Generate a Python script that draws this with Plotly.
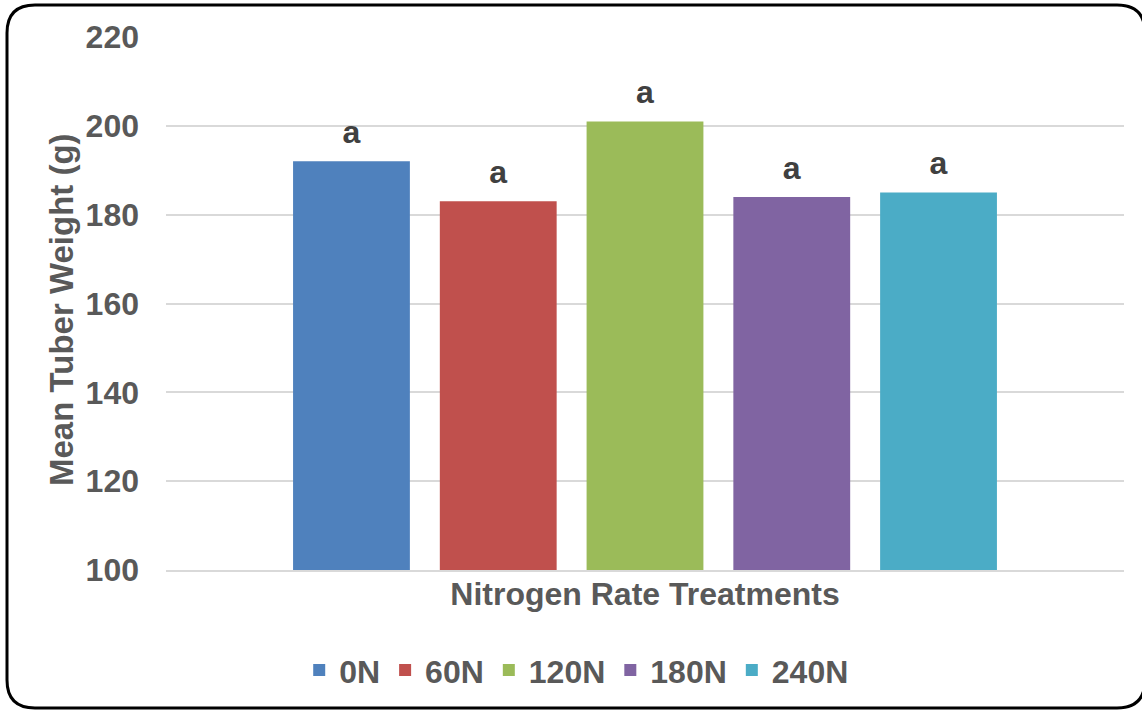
import plotly.graph_objects as go

# Mean tuber weight by nitrogen rate (single category, one series per treatment)
category = ["Nitrogen Rate Treatments"]
treatments = ["0N", "60N", "120N", "180N", "240N"]
mean_weight = [192, 183, 201, 184, 185]
letters = ["a", "a", "a", "a", "a"]
colors = ["#4F81BD", "#C0504D", "#9BBB59", "#8064A2", "#4BACC6"]
y_ticks = [100, 120, 140, 160, 180, 200, 220]

W, H = 1142, 710
ML, MR, MT, MB = 166, 18, 37, 140
FONT = "Liberation Sans, Arial, sans-serif"
GRID = "#D9D9D9"

fig = go.Figure()
for name, val, lab, col in zip(treatments, mean_weight, letters, colors):
    fig.add_trace(go.Bar(
        x=category, y=[val], name=name,
        marker=dict(color=col, line=dict(width=0)),
        # large letter plus a small blank line below it to lift the label off the bar
        text=[f"<span style='font-size:32px'>{lab}</span><br>&nbsp;"],
        textposition="outside",
        textfont=dict(family=FONT, size=10, color="#404040", weight="bold"),
        cliponaxis=False,
    ))

# rounded chart-area border, expressed in paper coordinates
pw, ph = W - ML - MR, H - MT - MB
def px(x):
    return (x - ML) / pw
def py(y):
    return (H - MB - y) / ph

x0, x1, y0, y1, r = 7, 1145, 5, 708, 28
path = (
    f"M {px(x0)},{py(y0 + r)} "
    f"Q {px(x0)},{py(y0)} {px(x0 + r)},{py(y0)} "
    f"L {px(x1 - r)},{py(y0)} "
    f"Q {px(x1)},{py(y0)} {px(x1)},{py(y0 + r)} "
    f"L {px(x1)},{py(y1 - r)} "
    f"Q {px(x1)},{py(y1)} {px(x1 - r)},{py(y1)} "
    f"L {px(x0 + r)},{py(y1)} "
    f"Q {px(x0)},{py(y1)} {px(x0)},{py(y1 - r)} Z"
)

fig.update_layout(
    width=W, height=H,
    margin=dict(l=ML, r=MR, t=MT, b=MB),
    paper_bgcolor="white", plot_bgcolor="white",
    barmode="group", bargap=0.234, bargroupgap=0.204,
    font=dict(family=FONT, color="#595959", weight="bold"),
    showlegend=True,
    legend=dict(
        orientation="h", xref="container", yref="container",
        x=0.505, xanchor="center", y=0.056, yanchor="middle",
        font=dict(family=FONT, size=32, color="#595959", weight="bold"),
        itemsizing="constant", traceorder="normal",
    ),
    shapes=[dict(type="path", xref="paper", yref="paper", path=path,
                 line=dict(color="black", width=3), layer="above")],
    annotations=[dict(
        text="Mean Tuber Weight (g)", textangle=-90,
        xref="paper", yref="paper", x=px(61), y=py(310),
        xanchor="center", yanchor="middle", showarrow=False,
        font=dict(family=FONT, size=33, color="#595959", weight="bold"),
    )],
)

fig.update_yaxes(
    range=[100, 220], tickvals=y_ticks,
    showgrid=True, gridcolor=GRID, gridwidth=1.5,
    zeroline=False, showline=False,
    tickfont=dict(family=FONT, size=32, color="#595959", weight="bold"),
    ticklabelstandoff=26,
)
fig.update_xaxes(
    showline=True, linecolor=GRID, linewidth=1.5,
    showgrid=False, zeroline=False,
    tickfont=dict(family=FONT, size=32, color="#595959", weight="bold"),
    ticklabelstandoff=-5,
)

fig.write_html("out.html")
